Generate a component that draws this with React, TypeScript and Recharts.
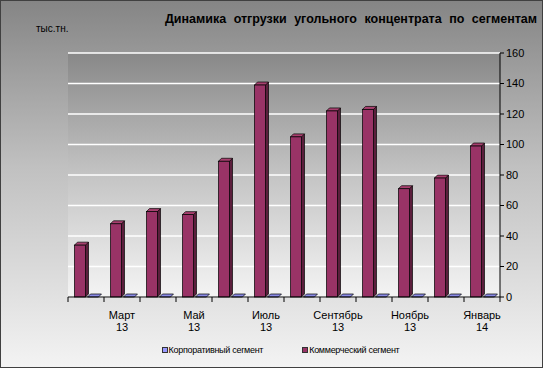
import { BarChart, Bar, XAxis, YAxis, CartesianGrid, Legend } from 'recharts';

const months = ['Февраль', 'Март', 'Апрель', 'Май', 'Июнь', 'Июль', 'Август', 'Сентябрь', 'Октябрь', 'Ноябрь', 'Декабрь', 'Январь'];
const years = ['13', '13', '13', '13', '13', '13', '13', '13', '13', '13', '13', '14'];
const corporate = [0, 0, 0, 0, 0, 0, 0, 0, 0, 0, 0, 0];
const commercial = [34, 48, 56, 54, 89, 139, 105, 122, 123, 71, 78, 99];
const yTicks = [0, 20, 40, 60, 80, 100, 120, 140, 160];

const seriesNames = ['Корпоративный сегмент', 'Коммерческий сегмент'];

const data = months.map((m, i) => ({
  name: m + ' ' + years[i],
  month: m,
  year: years[i],
  corporate: corporate[i],
  commercial: commercial[i],
}));

const W = 543;
const H = 368;
const AXIS_Y = 297;
const PLOT_W = 432;
const DEPTH = 3;
const FONT = "Arial, 'Liberation Sans', sans-serif";

const colors = {
  corporate: { front: '#9999ff', side: '#6666cc', top: '#8a8ae6' },
  commercial: { front: '#993366', side: '#5c1f3d', top: '#a8406f' },
};

// рисуем псевдо-3D столбик: передняя грань, бок и верх
const make3D = (c: { front: string; side: string; top: string }) => (props: any) => {
  const { x, y, width, height } = props;
  if (x == null || y == null) return <g />;
  const d = DEPTH;
  const h = Math.max(0, height || 0);
  return (
    <g>
      {h > 0 && (
        <path
          d={`M${x + width},${y} L${x + width + d},${y - d} L${x + width + d},${y + h - d} L${x + width},${y + h} Z`}
          fill={c.side}
          stroke="#000"
          strokeWidth={0.7}
        />
      )}
      <path
        d={`M${x},${y} L${x + d},${y - d} L${x + width + d},${y - d} L${x + width},${y} Z`}
        fill={c.top}
        stroke="#000"
        strokeWidth={0.7}
      />
      {h > 0 && <rect x={x} y={y} width={width} height={h} fill={c.front} stroke="#000" strokeWidth={0.7} />}
    </g>
  );
};

const XTick = (props: any) => {
  const { x, index, payload, visibleTicksCount } = props;
  const n = visibleTicksCount || months.length;
  const band = PLOT_W / n;
  const item = data[index] || data.find((dd) => dd.name === payload.value);
  return (
    <g>
      <line x1={x - band / 2} y1={AXIS_Y} x2={x - band / 2} y2={AXIS_Y + 5} stroke="#000" />
      {index === n - 1 && <line x1={x + band / 2} y1={AXIS_Y} x2={x + band / 2} y2={AXIS_Y + 5} stroke="#000" />}
      {index % 2 === 1 && item && (
        <text x={x} y={AXIS_Y + 22} textAnchor="middle" fontSize={11} fontFamily={FONT} fill="#000">
          <tspan x={x}>{item.month}</tspan>
          <tspan x={x} dy={12}>{item.year}</tspan>
        </text>
      )}
    </g>
  );
};

const LegendBox = () => (
  <div
    style={{
      display: 'flex',
      justifyContent: 'center',
      gap: 39,
      fontFamily: FONT,
      fontSize: 9,
      letterSpacing: -0.3,
      color: '#000',
      transform: 'translate(-25px, 3px)',
    }}
  >
    {[colors.corporate.front, colors.commercial.front].map((c, i) => (
      <span key={i} style={{ display: 'flex', alignItems: 'center' }}>
        <span style={{ width: 4, height: 4, background: c, border: '1px solid #333', marginRight: 1 }} />
        {seriesNames[i]}
      </span>
    ))}
  </div>
);

export default function App() {
  return (
    <div
      style={{
        position: 'absolute',
        left: 0,
        top: 0,
        width: W,
        height: H,
        boxSizing: 'border-box',
        border: '1px solid #404040',
        background: 'linear-gradient(to bottom, #858585 0%, #c0c0c0 45%, #f3f3f3 100%)',
        overflow: 'hidden',
      }}
    >
      <div style={{ position: 'absolute', right: 5, top: 11, fontFamily: FONT, fontWeight: 'bold', fontSize: 12.5, wordSpacing: 4, color: '#000', whiteSpace: 'nowrap' }}>
        Динамика отгрузки угольного концентрата по сегментам
      </div>
      <div style={{ position: 'absolute', left: 35, top: 22, fontFamily: FONT, fontSize: 10, color: '#000' }}>тыс.тн.</div>
      <div style={{ position: 'absolute', left: -1, top: -1 }}>
        <BarChart width={W} height={H} data={data} margin={{ top: 53, right: 0, left: 68, bottom: 6 }} barGap={2} barCategoryGap="18%">
          <defs>
            <linearGradient id="plotBg" x1="0" y1="0" x2="0" y2="1">
              <stop offset="0%" stopColor="#888888" />
              <stop offset="50%" stopColor="#c4c4c4" />
              <stop offset="100%" stopColor="#f4f4f4" />
            </linearGradient>
          </defs>
          <CartesianGrid yAxisId="right" vertical={false} stroke="#ffffff" strokeWidth={1.5} fill="url(#plotBg)" fillOpacity={1} />
          <XAxis dataKey="name" interval={0} height={45} tickLine={false} axisLine={{ stroke: '#000' }} tick={<XTick />} />
          <YAxis
            yAxisId="left"
            orientation="left"
            width={0}
            domain={[0, 160]}
            ticks={yTicks}
            mirror
            tickSize={3}
            tick={() => <g />}
            axisLine={{ stroke: '#000' }}
            tickLine={{ stroke: '#000' }}
          />
          <YAxis
            yAxisId="right"
            orientation="right"
            width={43}
            domain={[0, 160]}
            ticks={yTicks}
            tickSize={4}
            tickMargin={2}
            axisLine={{ stroke: '#000' }}
            tickLine={{ stroke: '#000' }}
            tick={{ fontSize: 11, fontFamily: FONT, fill: '#000' }}
          />
          <Legend verticalAlign="bottom" height={20} content={() => <LegendBox />} />
          <Bar yAxisId="right" dataKey="commercial" name={seriesNames[1]} shape={make3D(colors.commercial)} isAnimationActive={false} />
          <Bar yAxisId="right" dataKey="corporate" name={seriesNames[0]} shape={make3D(colors.corporate)} isAnimationActive={false} />
        </BarChart>
      </div>
    </div>
  );
}
